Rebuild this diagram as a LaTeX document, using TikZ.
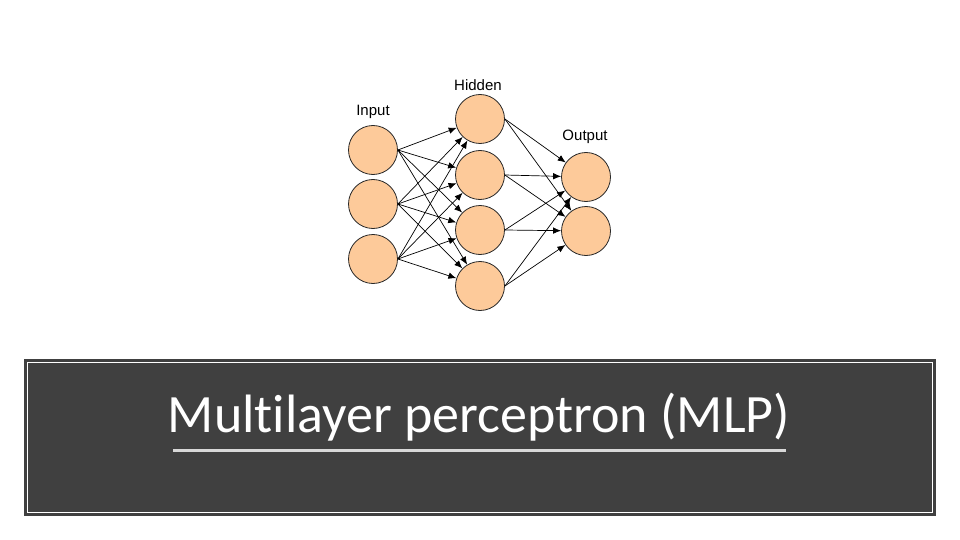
\documentclass[tikz,border=0pt]{standalone}
\usepackage{fontspec}
\setmainfont{Liberation Sans}
\newfontfamily\titlefont[RawFeature={-liga;-clig;-calt;-dlig}]{Carlito}
\usetikzlibrary{arrows.meta,positioning}
\definecolor{NeuronFill}{RGB}{253,202,154}
\definecolor{NeuronLine}{RGB}{40,40,40}
\definecolor{PanelGray}{RGB}{64,64,64}
\definecolor{RuleGray}{RGB}{216,216,216}

\begin{document}
\begin{tikzpicture}[x=1pt,y=-1pt,
  neuron/.style={circle,draw=NeuronLine,fill=NeuronFill,line width=0.8pt,
                 minimum size=49pt,inner sep=0pt},
  lbl/.style={font=\fontsize{15}{17}\selectfont,inner sep=0pt},
  arr/.style={-{Latex[length=8pt,width=6.5pt]},line width=0.7pt,black},
  panel/.style={fill=PanelGray,draw=PanelGray,minimum width=911pt,
                minimum height=156pt,inner sep=0pt},
  frame/.style={draw=white,line width=1pt,minimum width=905pt,
                minimum height=150pt,inner sep=0pt},
]
\useasboundingbox (0,0) rectangle (960,540);
% layers
\node[neuron] (i1) at (373,150) {};
\node[neuron] (i2) at (373,204) {};
\node[neuron] (i3) at (373,259) {};
\node[neuron] (h1) at (480,119) {};
\node[neuron] (h2) at (480,175) {};
\node[neuron] (h3) at (480,230) {};
\node[neuron] (h4) at (480,286) {};
\node[neuron] (o1) at (586,177) {};
\node[neuron] (o2) at (586,231) {};
\node[lbl] (inlbl) at (373,112) {Input};
\node[lbl] (hidlbl) at (478,85) {Hidden};
\node[lbl] (outlbl) at (585,137) {Output};
\foreach \i in {1,2,3}
  \foreach \h in {1,2,3,4}
    \draw[arr] (i\i.east) -- (h\h);
\foreach \h in {1,2,3,4}
  \foreach \o in {1,2}
    \draw[arr] (h\h.east) -- (o\o);
% title panel
\node[panel] (panel) at (479.5,437) {};
\node[frame] (frame) at (panel) {};
\node[anchor=base,text=white,inner sep=0pt,
      font=\titlefont\fontsize{54}{58}\selectfont] (title) at (479,432)
  {Multilayer perceptron (MLP)};
\coordinate (rulel) at (173,450.5);
\coordinate (ruler) at (786,450.5);
\draw[RuleGray,line width=3pt] (rulel) -- (ruler);
\end{tikzpicture}
\end{document}
